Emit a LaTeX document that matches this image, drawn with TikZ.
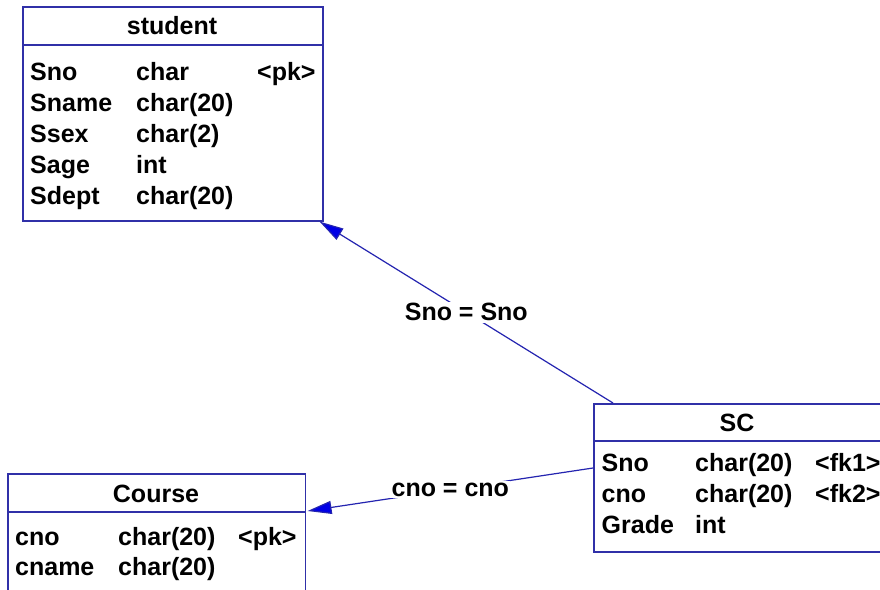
\documentclass[tikz,border=0pt]{standalone}
\usepackage{fontspec}
\setmainfont{Liberation Sans}
\usetikzlibrary{arrows.meta}
\definecolor{boxblue}{RGB}{48,48,168}
\definecolor{lineblue}{RGB}{36,36,176}
\definecolor{tipblue}{RGB}{0,0,230}
\begin{document}
\begin{tikzpicture}[x=1pt,y=-1pt,
  tbox/.style={draw=boxblue, line width=1.6pt, fill=white, inner sep=0pt, anchor=north west},
  sepline/.style={draw=boxblue, line width=1.6pt},
  txt/.style={font=\fontsize{25}{30}\selectfont\bfseries, inner sep=0pt, anchor=base west},
  ttl/.style={txt, anchor=base},
  conn/.style={draw=lineblue, line width=1.2pt},
  reltip/.style={-{Triangle[length=24pt,width=13pt,fill=tipblue]}},
  lbl/.style={font=\fontsize{25}{30}\selectfont\bfseries, fill=white, inner sep=1.5pt}]
\useasboundingbox (0,0) rectangle (880,589);
\fill[white] (0,0) rectangle (880,589);

% student table
\node[tbox, minimum width=300pt, minimum height=214pt] (student) at (22,6) {};
\draw[sepline] ([yshift=-39pt]student.north west) -- ([yshift=-39pt]student.north east);
\node[ttl] (stT) at (172,34) {student};
\node[txt] (st1a) at (30,80) {Sno};
\node[txt] (st1b) at (136,80) {char};
\node[txt] (st1c) at (257,80) {<pk>};
\node[txt] (st2a) at (30,111) {Sname};
\node[txt] (st2b) at (136,111) {char(20)};
\node[txt] (st3a) at (30,142) {Ssex};
\node[txt] (st3b) at (136,142) {char(2)};
\node[txt] (st4a) at (30,173) {Sage};
\node[txt] (st4b) at (136,173) {int};
\node[txt] (st5a) at (30,204) {Sdept};
\node[txt] (st5b) at (136,204) {char(20)};

% SC table
\node[tbox, minimum width=288pt, minimum height=148pt] (sc) at (593,403) {};
\draw[sepline] ([yshift=-38pt]sc.north west) -- ([yshift=-38pt]sc.north east);
\node[ttl] (scT) at (737,431) {SC};
\node[txt] (sc1a) at (601.5,471) {Sno};
\node[txt] (sc1b) at (695,471) {char(20)};
\node[txt] (sc1c) at (815,471) {<fk1>};
\node[txt] (sc2a) at (601.5,502) {cno};
\node[txt] (sc2b) at (695,502) {char(20)};
\node[txt] (sc2c) at (815,502) {<fk2>};
\node[txt] (sc3a) at (601.5,533) {Grade};
\node[txt] (sc3b) at (695,533) {int};

% Course table
\node[tbox, minimum width=297.5pt, minimum height=140pt] (course) at (7,473) {};
\draw[sepline] ([yshift=-39pt]course.north west) -- ([yshift=-39pt]course.north east);
\node[ttl] (coT) at (156,502) {Course};
\node[txt] (co1a) at (15,545) {cno};
\node[txt] (co1b) at (118,545) {char(20)};
\node[txt] (co1c) at (238,545) {<pk>};
\node[txt] (co2a) at (15,575) {cname};
\node[txt] (co2b) at (118,575) {char(20)};

% references
\draw[conn, reltip] ([xshift=20pt]sc.north west) -- node[lbl] (r1) {Sno = Sno} ([xshift=-4pt]student.south east);
\draw[conn, reltip] ([yshift=-65pt]sc.north west) -- node[lbl] (r2) {cno = cno} ([xshift=1.5pt,yshift=-38pt]course.north east);
\end{tikzpicture}
\end{document}
